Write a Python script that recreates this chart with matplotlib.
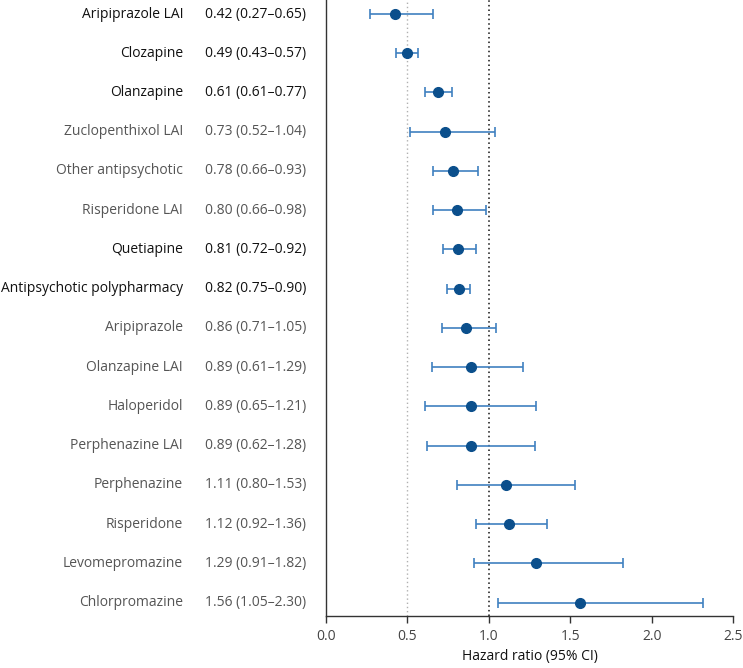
import matplotlib
matplotlib.use("Agg")
import matplotlib.pyplot as plt
from matplotlib.transforms import blended_transform_factory

plt.rcParams['font.family'] = ['Open Sans', 'DejaVu Sans']

names = ["Aripiprazole LAI", "Clozapine", "Olanzapine", "Zuclopenthixol LAI",
         "Other antipsychotic", "Risperidone LAI", "Quetiapine",
         "Antipsychotic polypharmacy", "Aripiprazole", "Olanzapine LAI",
         "Haloperidol", "Perphenazine LAI", "Perphenazine", "Risperidone",
         "Levomepromazine", "Chlorpromazine"]
value_labels = ["0.42 (0.27\u20130.65)", "0.49 (0.43\u20130.57)", "0.61 (0.61\u20130.77)",
                "0.73 (0.52\u20131.04)", "0.78 (0.66\u20130.93)", "0.80 (0.66\u20130.98)",
                "0.81 (0.72\u20130.92)", "0.82 (0.75\u20130.90)", "0.86 (0.71\u20131.05)",
                "0.89 (0.61\u20131.29)", "0.89 (0.65\u20131.21)", "0.89 (0.62\u20131.28)",
                "1.11 (0.80\u20131.53)", "1.12 (0.92\u20131.36)", "1.29 (0.91\u20131.82)",
                "1.56 (1.05\u20132.30)"]
highlight = [True, True, True, False, False, False, True, True,
             False, False, False, False, False, False, False, False]
# positions of the marks as drawn in the figure
hr = [0.425, 0.497, 0.691, 0.734, 0.783, 0.806, 0.812, 0.820,
      0.861, 0.889, 0.889, 0.893, 1.108, 1.125, 1.292, 1.560]
lo = [0.272, 0.433, 0.611, 0.517, 0.660, 0.660, 0.720, 0.742,
      0.711, 0.650, 0.611, 0.624, 0.803, 0.924, 0.912, 1.055]
hi = [0.656, 0.566, 0.773, 1.039, 0.936, 0.983, 0.920, 0.887,
      1.047, 1.212, 1.288, 1.284, 1.532, 1.360, 1.826, 2.313]
xticks = [0.0, 0.5, 1.0, 1.5, 2.0, 2.5]
xlabel = "Hazard ratio (95% CI)"

W, H = 743, 668
fig = plt.figure(figsize=(W / 100, H / 100), dpi=100)
ax = fig.add_axes([325.7 / W, (H - 616) / H, (733.3 - 325.7) / W, 616 / H])

ypos = list(range(len(names)))
line_c = "#3f80c0"
dot_c = "#0b4f8c"

ax.axvline(0.5, color="#b0b0b0", linestyle=(0, (1, 2)), linewidth=1.0, zorder=1)
ax.axvline(1.0, color="#111111", linestyle=(0, (1, 2)), linewidth=1.1, zorder=1)

for y, h, l, u in zip(ypos, hr, lo, hi):
    ax.errorbar([h], [y], xerr=[[h - l], [u - h]], fmt="none", ecolor=line_c,
                elinewidth=1.2, capsize=3.8, capthick=1.2, zorder=2)
ax.plot(hr, ypos, "o", color=dot_c, markersize=7, zorder=3)

ax.set_xlim(0, 2.5)
ax.set_ylim(15.34, -0.357)
ax.set_xticks(xticks)
ax.set_xticklabels([f"{t:.1f}" for t in xticks])
ax.set_yticks([])
ax.spines["top"].set_visible(False)
ax.spines["right"].set_visible(False)
for s in ("left", "bottom"):
    ax.spines[s].set_color("#333333")
    ax.spines[s].set_linewidth(1.0)
ax.tick_params(axis="x", colors="#333333", labelcolor="#444444", labelsize=10,
               length=5, width=1.0, pad=4)
ax.set_xlabel(xlabel, fontsize=10, color="#111111", labelpad=4)

tr = blended_transform_factory(fig.transFigure, ax.transData)
for y, n, v, hl in zip(ypos, names, value_labels, highlight):
    c = "#111111" if hl else "#555555"
    ax.text(183 / W, y, n, transform=tr, ha="right", va="center",
            fontsize=10, color=c, clip_on=False)
    ax.text(306 / W, y, v, transform=tr, ha="right", va="center",
            fontsize=10, color=c, clip_on=False)

fig.savefig("out.png", dpi=100)
